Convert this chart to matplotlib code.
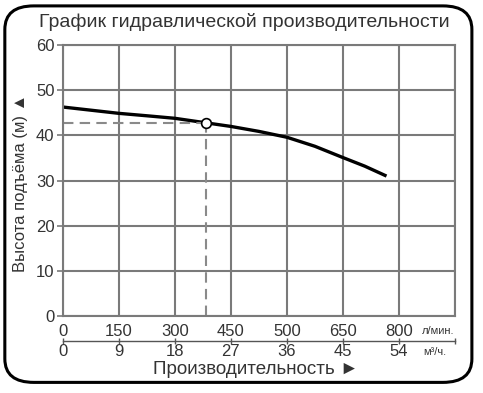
import matplotlib
matplotlib.use("Agg")
import matplotlib.pyplot as plt
from matplotlib.patches import FancyBboxPatch

plt.rcParams["font.family"] = ["Liberation Sans", "DejaVu Sans"]

# flow, m3/h vs head, m
flow = [0, 9, 14, 18, 23, 27, 31.5, 36, 40.5, 45, 48.5, 52]
head = [46.3, 44.9, 44.3, 43.8, 42.8, 42.0, 40.9, 39.6, 37.6, 35.1, 33.2, 31.0]
work_q, work_h = 23, 42.8

m3h_ticks = [0, 9, 18, 27, 36, 45, 54]
lmin_labels = ["0", "150", "300", "450", "500", "650", "800"]
head_ticks = [0, 10, 20, 30, 40, 50, 60]

txt = "#333333"
grid = "#7a7a7a"

fig = plt.figure(figsize=(4.83, 3.93), dpi=100)
ax = fig.add_axes([0.130, 0.196, 0.812, 0.689])

ax.plot(flow, head, color="black", lw=2.4, solid_capstyle="butt")
ax.plot([0, work_q], [work_h, work_h], color="#8a8a8a", lw=1.5, ls=(0, (5, 3)))
ax.plot([work_q, work_q], [0, work_h], color="#8a8a8a", lw=1.5, ls=(0, (5, 3)))
ax.plot(work_q, work_h, "o", ms=7, mfc="white", mec="black", mew=1.2, zorder=5)

ax.set_xlim(0, 63)
ax.set_ylim(0, 60)
ax.set_xticks(m3h_ticks + [63])
ax.set_xticklabels(lmin_labels + [""], color=txt, fontsize=12)
ax.set_yticks(head_ticks)
ax.set_yticklabels([str(v) for v in head_ticks], color=txt, fontsize=12)
ax.tick_params(axis="x", length=0, pad=6)
ax.tick_params(axis="y", length=4, width=1.2, color=grid, pad=2)
ax.grid(True, color=grid, lw=1.5)
for s in ax.spines.values():
    s.set_color(grid)
    s.set_linewidth(1.5)

sec = ax.secondary_xaxis(-0.092)
sec.set_xticks(m3h_ticks + [63])
sec.set_xticklabels([str(v) for v in m3h_ticks] + [""], color=txt, fontsize=12)
sec.tick_params(axis="x", direction="inout", length=5, width=1, color="#555555", pad=0)
sec.spines["bottom"].set_color("#555555")
sec.spines["bottom"].set_linewidth(1)

fig.text(0.873, 0.158, "л/мин.", fontsize=8, color=txt, ha="left", va="center")
fig.text(0.876, 0.104, "м³/ч.", fontsize=8, color=txt, ha="left", va="center")

fig.text(0.530, 0.059, "Производительность ►", fontsize=13.5, color=txt,
         ha="center", va="center")
fig.text(0.042, 0.535, "Высота подъёма (м) ▲", fontsize=12, color=txt,
         ha="center", va="center", rotation=90)
fig.text(0.505, 0.945, "График гидравлической производительности", fontsize=14,
         color=txt, ha="center", va="center")

box = FancyBboxPatch((0.010, 0.027), 0.967, 0.958, transform=fig.transFigure,
                     boxstyle="round,pad=0,rounding_size=0.06", fc="none",
                     ec="black", lw=2.2)
fig.patches.append(box)

fig.savefig("out.png", dpi=100)
